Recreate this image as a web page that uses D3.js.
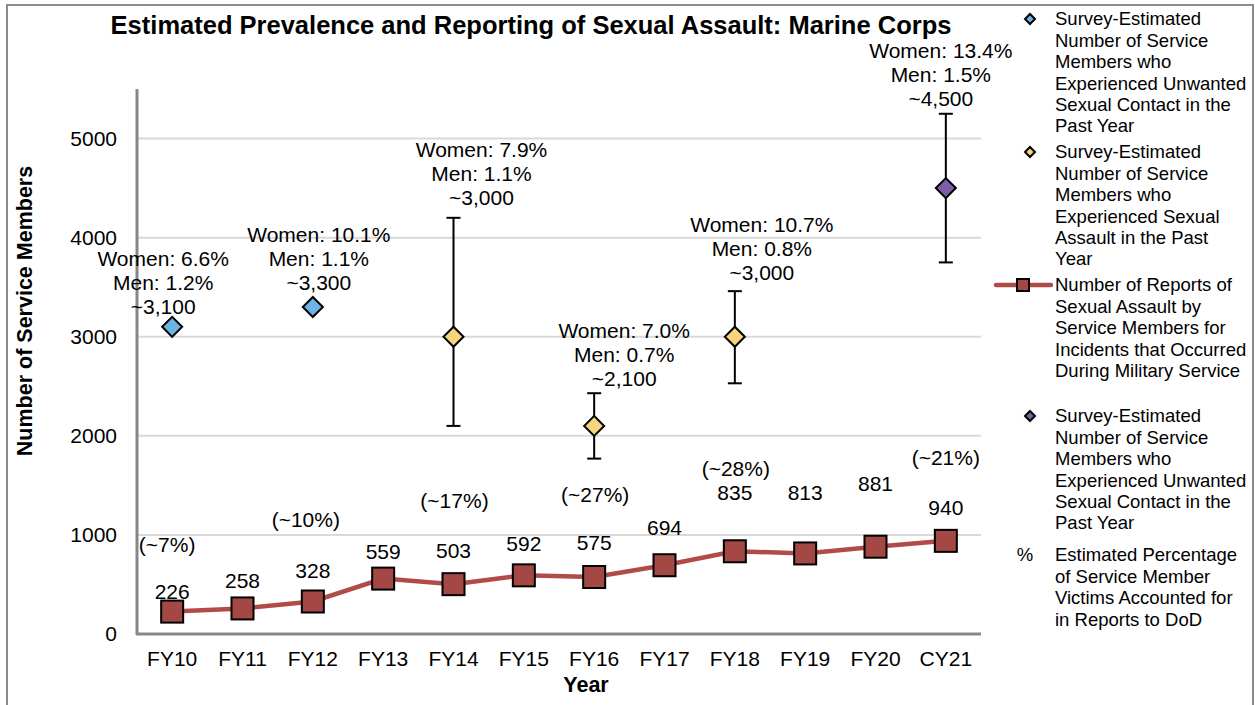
<!DOCTYPE html>
<html>
<head>
	<title>Marine Corps</title>
	<script src="https://d3js.org/d3.v7.min.js"></script>
	<style>
		body { margin: 0; background: #fff; }
		svg { font-family: "Liberation Sans", Arial, sans-serif; }
		.grid line { stroke: #d9d9d9; stroke-width: 2; }
		.axis .domain { display: none; }
		.axis line { display: none; }
		.axis text { font-size: 21px; fill: #000; }
	</style>
</head>
<body>
	<svg width="1255" height="705"></svg>
<script type="text/javascript">

	// --- data ---
	var years = ["FY10", "FY11", "FY12", "FY13", "FY14", "FY15", "FY16", "FY17", "FY18", "FY19", "FY20", "CY21"];
	var reports = [226, 258, 328, 559, 503, 592, 575, 694, 835, 813, 881, 940];
	var yTicks = [0, 1000, 2000, 3000, 4000, 5000];

	// survey estimates (kind: usc = unwanted sexual contact, sa = sexual assault, usc21 = CY21 USC)
	var surveyYears = ["FY10", "FY12", "FY14", "FY16", "FY18", "CY21"];
	var surveyValues = [3100, 3300, 3000, 2100, 3000, 4500];
	var surveyLow = [null, null, 2100, 1770, 2530, 3750];
	var surveyHigh = [null, null, 4200, 2430, 3460, 5250];
	var surveyKind = ["usc", "usc", "sa", "sa", "sa", "usc21"];
	var surveyWomen = ["6.6%", "10.1%", "7.9%", "7.0%", "10.7%", "13.4%"];
	var surveyMen = ["1.2%", "1.1%", "1.1%", "0.7%", "0.8%", "1.5%"];
	var surveyLabel = ["~3,100", "~3,300", "~3,000", "~2,100", "~3,000", "~4,500"];
	var pctLabel = ["(~7%)", "(~10%)", "(~17%)", "(~27%)", "(~28%)", "(~21%)"];

	// --- layout tweaks for labels (pixels / data units) ---
	var annDx = [-9, 6, 28, 30, 27, -5];
	var annDy = [-20, -24, -20, -15, -18, -15];
	var pctAt = [900, 1150, 1350, 1410, 1670, 1775];
	var pctDx = [-5, -7, 1, 1, 1, 0];
	var repDy = [-20, -28, -31, -27, -34, -32, -34, -38, -59, -61, -63, -33];

	var colors = { usc: "#6cb4e4", sa: "#f7d57c", usc21: "#7b5ea7" };
	var lineColor = "#b04b47", squareColor = "#a34844";

	var svg = d3.select("svg");

	// outer frame
	svg.append("path")
		.attr("d", "M7,710 L7,5 L1253,5 L1253,710")
		.attr("fill", "none")
		.attr("stroke", "#8c8c8c")
		.attr("stroke-width", 2);

	var x = d3.scaleBand().domain(years).range([137, 981]);
	var y = d3.scaleLinear().domain([0, 5500]).range([634, 89]);
	function cx(d) { return x(d) + x.bandwidth() / 2; }

	// gridlines
	svg.append("g").attr("class", "grid")
		.selectAll("line")
		.data(yTicks.slice(1))
		.enter().append("line")
		.attr("x1", 137).attr("x2", 981)
		.attr("y1", function(d) { return y(d); })
		.attr("y2", function(d) { return y(d); });

	// axes
	svg.append("g").attr("class", "axis")
		.attr("transform", "translate(137,0)")
		.call(d3.axisLeft(y).tickValues(yTicks).tickSize(0).tickPadding(20).tickFormat(d3.format("d")));

	svg.append("g").attr("class", "axis")
		.attr("transform", "translate(0,634)")
		.call(d3.axisBottom(x).tickSize(0).tickPadding(17));

	svg.append("line")
		.attr("x1", 137).attr("x2", 137).attr("y1", 89).attr("y2", 635)
		.attr("stroke", "#878787").attr("stroke-width", 3);
	svg.append("line")
		.attr("x1", 136).attr("x2", 981).attr("y1", 634).attr("y2", 634)
		.attr("stroke", "#878787").attr("stroke-width", 3);

	// titles
	svg.append("text")
		.attr("x", 531).attr("y", 34)
		.attr("text-anchor", "middle")
		.attr("font-size", 25.5).attr("font-weight", "bold")
		.text("Estimated Prevalence and Reporting of Sexual Assault: Marine Corps");

	svg.append("text")
		.attr("transform", "translate(32,311) rotate(-90)")
		.attr("text-anchor", "middle")
		.attr("font-size", 21.5).attr("font-weight", "bold")
		.text("Number of Service Members");

	svg.append("text")
		.attr("x", 586).attr("y", 692)
		.attr("text-anchor", "middle")
		.attr("font-size", 21.5).attr("font-weight", "bold")
		.text("Year");

	// reports line
	var line = d3.line()
		.x(function(d, i) { return cx(years[i]); })
		.y(function(d) { return y(d); });

	svg.append("path")
		.datum(reports)
		.attr("d", line)
		.attr("fill", "none")
		.attr("stroke", lineColor)
		.attr("stroke-width", 4.5);

	svg.append("g").selectAll("rect")
		.data(reports)
		.enter().append("rect")
		.attr("x", function(d, i) { return cx(years[i]) - 11; })
		.attr("y", function(d) { return y(d) - 11; })
		.attr("width", 22).attr("height", 22)
		.attr("fill", squareColor)
		.attr("stroke", "#000").attr("stroke-width", 2);

	svg.append("g").selectAll("text")
		.data(reports)
		.enter().append("text")
		.attr("x", function(d, i) { return cx(years[i]); })
		.attr("y", function(d, i) { return y(d) + repDy[i]; })
		.attr("dy", "0.35em")
		.attr("text-anchor", "middle")
		.attr("font-size", 21)
		.text(function(d) { return d; });

	// survey error bars
	var err = svg.append("g");
	surveyYears.forEach(function(yr, i) {
		if (surveyLow[i] == null) return;
		var px = cx(yr);
		err.append("line").attr("x1", px).attr("x2", px)
			.attr("y1", y(surveyLow[i])).attr("y2", y(surveyHigh[i]));
		[surveyLow[i], surveyHigh[i]].forEach(function(v) {
			err.append("line").attr("x1", px - 7).attr("x2", px + 7)
				.attr("y1", y(v)).attr("y2", y(v));
		});
	});
	err.selectAll("line").attr("stroke", "#000").attr("stroke-width", 2);

	// survey diamonds
	var diamond = d3.symbol().type(d3.symbolSquare).size(200);
	svg.append("g").selectAll("path")
		.data(surveyValues)
		.enter().append("path")
		.attr("d", diamond)
		.attr("transform", function(d, i) { return "translate(" + cx(surveyYears[i]) + "," + y(d) + ") rotate(45)"; })
		.attr("fill", function(d, i) { return colors[surveyKind[i]]; })
		.attr("stroke", "#000").attr("stroke-width", 2);

	// survey annotations
	surveyYears.forEach(function(yr, i) {
		var top = surveyHigh[i] == null ? surveyValues[i] : surveyHigh[i];
		var px = cx(yr) + annDx[i];
		var py = y(top) + annDy[i];
		var lines = ["Women: " + surveyWomen[i], "Men: " + surveyMen[i], surveyLabel[i]];
		lines.forEach(function(t, k) {
			svg.append("text")
				.attr("x", px).attr("y", py - (2 - k) * 24)
				.attr("dy", "0.35em")
				.attr("text-anchor", "middle")
				.attr("font-size", 21)
				.text(t);
		});
	});

	// percentage labels
	svg.append("g").selectAll("text")
		.data(pctLabel)
		.enter().append("text")
		.attr("x", function(d, i) { return cx(surveyYears[i]) + pctDx[i]; })
		.attr("y", function(d, i) { return y(pctAt[i]); })
		.attr("dy", "0.35em")
		.attr("text-anchor", "middle")
		.attr("font-size", 21)
		.text(function(d) { return d; });

	// legend
	var legendItems = [
		{ type: "diamond", color: colors.usc, y: 19, lines: ["Survey-Estimated", "Number of Service", "Members who", "Experienced Unwanted", "Sexual Contact in the", "Past Year"] },
		{ type: "diamond", color: colors.sa, y: 152, lines: ["Survey-Estimated", "Number of Service", "Members who", "Experienced Sexual", "Assault in the Past", "Year"] },
		{ type: "line", y: 285, lines: ["Number of Reports of", "Sexual Assault by", "Service Members for", "Incidents that Occurred", "During Military Service"] },
		{ type: "diamond", color: colors.usc21, y: 416, lines: ["Survey-Estimated", "Number of Service", "Members who", "Experienced Unwanted", "Sexual Contact in the", "Past Year"] },
		{ type: "pct", y: 555, lines: ["Estimated Percentage", "of Service Member", "Victims Accounted for", "in Reports to DoD"] }
	];

	var legend = svg.append("g")
		.selectAll("g")
		.data(legendItems)
		.enter().append("g")
		.attr("transform", function(d) { return "translate(0," + d.y + ")"; });

	legend.each(function(d) {
		var g = d3.select(this);
		if (d.type == "diamond") {
			g.append("path")
				.attr("d", d3.symbol().type(d3.symbolSquare).size(50))
				.attr("transform", "translate(1030,0) rotate(45)")
				.attr("fill", d.color).attr("stroke", "#000").attr("stroke-width", 2);
		} else if (d.type == "line") {
			g.append("line").attr("x1", 996).attr("x2", 1051).attr("y1", 0).attr("y2", 0)
				.attr("stroke", lineColor).attr("stroke-width", 4.5).attr("stroke-linecap", "round");
			g.append("rect").attr("x", 1017).attr("y", -6).attr("width", 12).attr("height", 12)
				.attr("fill", squareColor).attr("stroke", "#000").attr("stroke-width", 2);
		} else {
			g.append("text").attr("x", 1025).attr("dy", "0.35em")
				.attr("text-anchor", "middle").attr("font-size", 18.5).text("%");
		}
		g.selectAll("text.lbl")
			.data(d.lines)
			.enter().append("text")
			.attr("class", "lbl")
			.attr("x", 1055)
			.attr("y", function(t, k) { return k * 21.4; })
			.attr("dy", "0.35em")
			.attr("font-size", 18.5)
			.text(function(t) { return t; });
	});

</script>
</body>
</html>
